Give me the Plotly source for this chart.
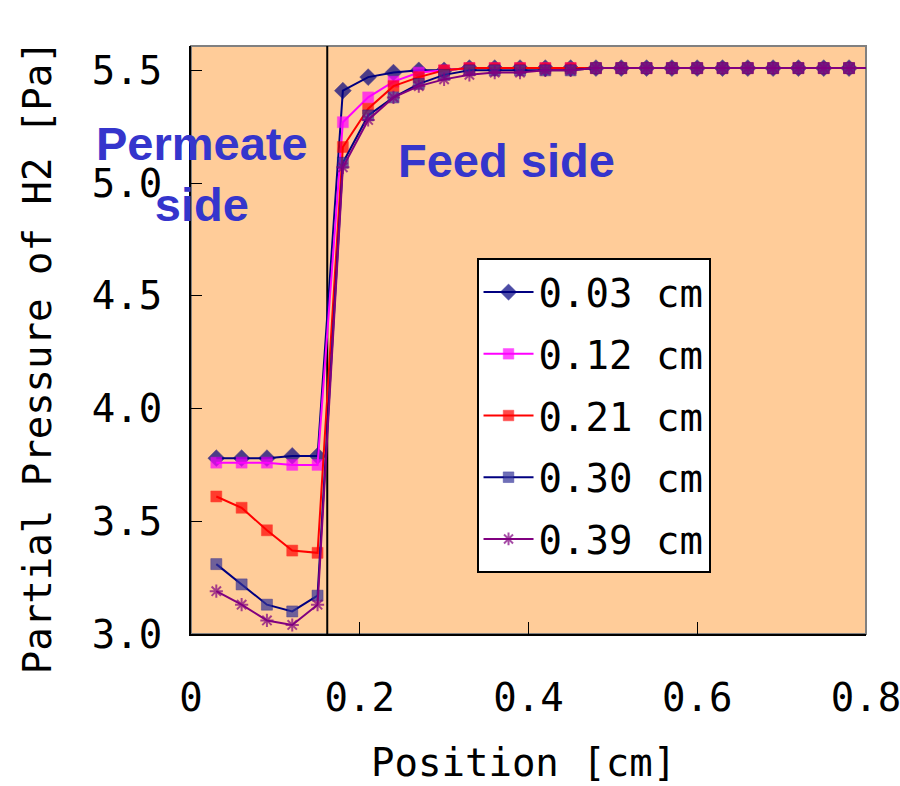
import plotly.graph_objects as go

# Position along the cell [cm]: permeate side (left of membrane) and feed side
positions = [0.03, 0.06, 0.09, 0.12, 0.15,
             0.18, 0.21, 0.24, 0.27, 0.30, 0.33, 0.36, 0.39, 0.42, 0.45,
             0.48, 0.51, 0.54, 0.57, 0.60, 0.63, 0.66, 0.69, 0.72, 0.75,
             0.78, 0.80]

# Partial pressure of H2 [Pa] at each height
p_003 = [3.78, 3.78, 3.78, 3.79, 3.79,
         5.41, 5.47, 5.49, 5.50, 5.50, 5.51, 5.51, 5.51, 5.51, 5.51,
         5.51, 5.51, 5.51, 5.51, 5.51, 5.51, 5.51, 5.51, 5.51, 5.51,
         5.51, 5.51]
p_012 = [3.76, 3.76, 3.76, 3.75, 3.75,
         5.27, 5.38, 5.45, 5.49, 5.50, 5.51, 5.51, 5.51, 5.51, 5.51,
         5.51, 5.51, 5.51, 5.51, 5.51, 5.51, 5.51, 5.51, 5.51, 5.51,
         5.51, 5.51]
p_021 = [3.61, 3.56, 3.46, 3.37, 3.36,
         5.16, 5.33, 5.43, 5.47, 5.50, 5.51, 5.51, 5.51, 5.51, 5.51,
         5.51, 5.51, 5.51, 5.51, 5.51, 5.51, 5.51, 5.51, 5.51, 5.51,
         5.51, 5.51]
p_030 = [3.31, 3.22, 3.13, 3.10, 3.17,
         5.09, 5.30, 5.38, 5.44, 5.48, 5.50, 5.50, 5.50, 5.50, 5.50,
         5.51, 5.51, 5.51, 5.51, 5.51, 5.51, 5.51, 5.51, 5.51, 5.51,
         5.51, 5.51]
p_039 = [3.19, 3.13, 3.06, 3.04, 3.13,
         5.07, 5.28, 5.38, 5.43, 5.46, 5.48, 5.49, 5.49, 5.50, 5.50,
         5.51, 5.51, 5.51, 5.51, 5.51, 5.51, 5.51, 5.51, 5.51, 5.51,
         5.51, 5.51]

series_names = ["0.03 cm", "0.12 cm", "0.21 cm", "0.30 cm", "0.39 cm"]
series_values = [p_003, p_012, p_021, p_030, p_039]

membrane_x = 0.1615

x_ticks = [0, 0.2, 0.4, 0.6, 0.8]
x_ticktext = ["0", "0.2", "0.4", "0.6", "0.8"]
y_ticks = [3.0, 3.5, 4.0, 4.5, 5.0, 5.5]

line_colors = ["#000080", "#FF00FF", "#FF0000", "#000080", "#800080"]
marker_colors = ["#000080", "#FF00FF", "#FF0000", "#333399", "#800080"]
marker_symbols = ["diamond", "square", "square", "square", "asterisk-open"]
marker_sizes = [13, 11, 11, 11, 11]

MONO = "DejaVu Sans Mono"
FS = 39

fig = go.Figure()
for i, (name, vals) in enumerate(zip(series_names, series_values)):
    n = len(positions)
    sizes = [marker_sizes[i]] * (n - 1) + [0]
    fig.add_trace(go.Scatter(
        x=positions, y=vals, name=name, mode="lines+markers",
        legendgroup=name,
        line=dict(color=line_colors[i], width=2),
        marker=dict(symbol=marker_symbols[i], size=sizes, color=marker_colors[i],
                    line=dict(color=marker_colors[i] if i == 4 else line_colors[i],
                              width=2 if i == 4 else 0.5)),
    ))

# plot-area frame (top/right in grey) and the membrane position
fig.add_shape(type="rect", xref="paper", yref="paper", x0=0, x1=1, y0=0, y1=1,
              line=dict(color="#808080", width=2), layer="below")
fig.add_shape(type="line", xref="x", yref="paper", x0=membrane_x, x1=membrane_x,
              y0=0, y1=1, line=dict(color="black", width=2), layer="below")

blue = "#3535CC"
fig.add_annotation(x=0.0136, y=5.04, xref="x", yref="y", text="Permeate<br>side",
                   showarrow=False, align="center", xanchor="center", yanchor="middle",
                   font=dict(family="Liberation Sans, Arial", size=47, color=blue, weight="bold"))
fig.add_annotation(x=0.3735, y=5.10, xref="x", yref="y", text="Feed side",
                   showarrow=False, xanchor="center", yanchor="middle",
                   font=dict(family="Liberation Sans, Arial", size=47, color=blue, weight="bold"))

# axis titles
fig.add_annotation(x=-0.228, y=0.471, xref="paper", yref="paper",
                   xanchor="center", yanchor="middle",
                   text="Partial Pressure of H2 [Pa]", textangle=-90, showarrow=False,
                   font=dict(family=MONO, size=FS, color="black"))
fig.add_annotation(x=0.493, y=-0.219, xref="paper", yref="paper",
                   xanchor="center", yanchor="middle",
                   text="Position [cm]", showarrow=False,
                   font=dict(family=MONO, size=FS, color="black"))

fig.update_xaxes(range=[0, 0.8001], tickvals=x_ticks, ticktext=x_ticktext,
                 showgrid=False, zeroline=False, showline=True, linecolor="black",
                 linewidth=2, ticks="inside", ticklen=12, tickcolor="black",
                 ticklabelstandoff=28, ticklabeloverflow="allow", automargin=False,
                 tickfont=dict(family=MONO, size=FS, color="black"))
fig.update_yaxes(range=[3.0, 5.608], tickvals=y_ticks, tickformat=".1f",
                 showgrid=False, zeroline=False, showline=True, linecolor="black",
                 linewidth=2, ticks="inside", ticklen=11, tickcolor="black",
                 ticklabelstandoff=19, automargin=False,
                 tickfont=dict(family=MONO, size=FS, color="black"))

fig.update_layout(
    width=900, height=786,
    margin=dict(l=191, r=34, t=46, b=152),
    paper_bgcolor="white", plot_bgcolor="#FFCC99",
    showlegend=True,
    legend=dict(x=0.423, y=0.639, xanchor="left", yanchor="top",
                bgcolor="white", bordercolor="black", borderwidth=2,
                font=dict(family=MONO, size=FS, color="black"),
                tracegroupgap=8, itemwidth=50),
)

fig.write_html("out.html")
